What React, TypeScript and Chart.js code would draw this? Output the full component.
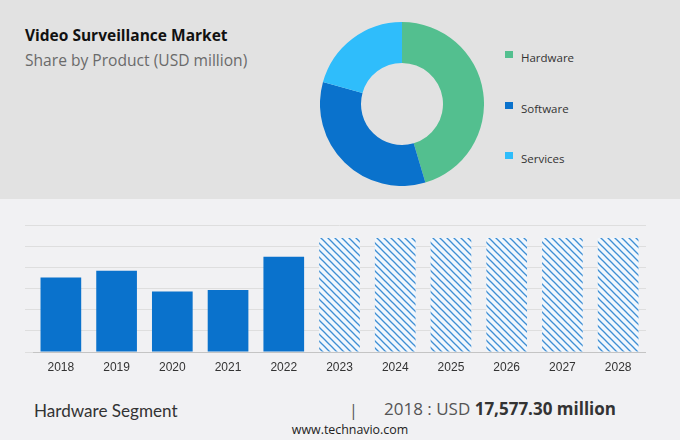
import React, { useEffect, useRef } from "react";
import { Chart, registerables } from "chart.js";

Chart.register(...registerables);

const years = ["2018", "2019", "2020", "2021", "2022", "2023", "2024", "2025", "2026", "2027", "2028"];
const actualValues = [17577.3, 19170, 14270, 14670, 22480];
const forecastValues = [26900, 26900, 26900, 26900, 26900, 26900];
const segments = ["Hardware", "Software", "Services"];
const shares = [45.4, 33.9, 20.7];
const segmentColors = ["#53bf8f", "#0a72cc", "#2fbdfb"];
const yMax = 30000;
const yStep = 5000;

const BAR_BLUE = "#0a72cc";

function makeHatch(): CanvasPattern | string {
  const s = 7;
  const c = document.createElement("canvas");
  c.width = s;
  c.height = s;
  const ctx = c.getContext("2d");
  if (!ctx) return "#cfe3f5";
  ctx.fillStyle = "#f1f7fd";
  ctx.fillRect(0, 0, s, s);
  ctx.strokeStyle = "#3f8fd4";
  ctx.lineWidth = 1.3;
  for (let k = -1; k <= 1; k++) {
    ctx.beginPath();
    ctx.moveTo(k * s - 1, -1);
    ctx.lineTo(k * s + s + 1, s + 1);
    ctx.stroke();
  }
  const p = ctx.createPattern(c, "repeat");
  return p || "#cfe3f5";
}

function Donut() {
  const ref = useRef<HTMLCanvasElement>(null);
  useEffect(() => {
    if (!ref.current) return;
    const chart = new Chart(ref.current, {
      type: "doughnut",
      data: {
        labels: segments,
        datasets: [
          {
            data: shares,
            backgroundColor: segmentColors,
            borderWidth: 0,
            hoverOffset: 0,
          },
        ],
      },
      options: {
        animation: false,
        responsive: false,
        maintainAspectRatio: false,
        cutout: "50%",
        layout: { padding: 0 },
        plugins: { legend: { display: false }, tooltip: { enabled: false } },
      },
    });
    return () => chart.destroy();
  }, []);
  return (
    <canvas
      ref={ref}
      width={164}
      height={164}
      style={{ position: "absolute", left: 320, top: 22, width: 164, height: 164 }}
    />
  );
}

function Bars() {
  const ref = useRef<HTMLCanvasElement>(null);
  useEffect(() => {
    if (!ref.current) return;
    const hatch = makeHatch();
    const values = [...actualValues, ...forecastValues];
    const colors = [
      ...actualValues.map(() => BAR_BLUE as any),
      ...forecastValues.map(() => hatch as any),
    ];
    const chart = new Chart(ref.current, {
      type: "bar",
      data: {
        labels: years,
        datasets: [
          {
            data: values,
            backgroundColor: colors,
            borderWidth: 0,
            categoryPercentage: 1,
            barPercentage: 0.73,
          },
        ],
      },
      options: {
        animation: false,
        responsive: false,
        maintainAspectRatio: false,
        layout: { padding: { top: 10, left: 0, right: 0, bottom: 0 } },
        plugins: { legend: { display: false }, tooltip: { enabled: false } },
        scales: {
          x: {
            grid: { display: false, drawTicks: false },
            border: { display: true, color: "#c4c4c4", width: 1 },
            ticks: {
              color: "#333333",
              font: { family: "'Liberation Sans', Arial, sans-serif", size: 12 },
              padding: 8,
              maxRotation: 0,
              autoSkip: false,
            },
            afterFit: (scale: any) => {
              scale.height = 30;
            },
          },
          y: {
            min: 0,
            max: yMax,
            ticks: { display: false, stepSize: yStep },
            grid: { color: "#dedede", lineWidth: 1, drawTicks: true, tickLength: 8 },
            border: { display: false },
          },
        },
      },
    });
    return () => chart.destroy();
  }, []);
  return (
    <canvas
      ref={ref}
      width={621}
      height={167}
      style={{ position: "absolute", left: 25, top: 215, width: 621, height: 167 }}
    />
  );
}

export default function App() {
  const abs = (o: React.CSSProperties): React.CSSProperties => ({ position: "absolute", whiteSpace: "nowrap", ...o });
  const legendTops = [51, 102, 152];
  return (
    <div
      style={{
        position: "fixed",
        left: 0,
        top: 0,
        width: 680,
        height: 440,
        background: "#f1f1f3",
        overflow: "hidden",
        fontFamily: "'Open Sans', sans-serif",
      }}
    >
      <div style={abs({ left: 0, top: 0, width: 680, height: 199, background: "#e2e2e2" })} />
      <div
        style={abs({
          left: 25,
          top: 24,
          fontFamily: "'Open Sans', sans-serif",
          fontWeight: 700,
          fontSize: 15.5,
          lineHeight: "22px",
          color: "#111111",
        })}
      >
        Video Surveillance Market
      </div>
      <div
        style={abs({
          left: 25,
          top: 49,
          fontFamily: "'Open Sans', sans-serif",
          fontSize: 15.6,
          lineHeight: "22px",
          color: "#6a6a6a",
        })}
      >
        Share by Product (USD million)
      </div>
      <Donut />
      {segments.map((s, i) => (
        <React.Fragment key={s}>
          <div style={abs({ left: 505, top: legendTops[i], width: 8, height: 7, background: segmentColors[i] })} />
          <div
            style={abs({
              left: 521,
              top: legendTops[i] - 2,
              fontFamily: "'Open Sans', sans-serif",
              fontSize: 11.5,
              lineHeight: "18px",
              color: "#333333",
            })}
          >
            {s}
          </div>
        </React.Fragment>
      ))}
      <Bars />
      <div
        style={abs({
          left: 34,
          top: 400,
          fontFamily: "Lato, sans-serif",
          fontSize: 17.1,
          lineHeight: "22px",
          color: "#333333",
        })}
      >
        Hardware Segment
      </div>
      <div
        style={abs({
          left: 349,
          top: 399,
          fontFamily: "'Open Sans', sans-serif",
          fontSize: 16,
          lineHeight: "22px",
          color: "#555555",
        })}
      >
        |
      </div>
      <div
        style={abs({
          left: 384,
          top: 398,
          fontFamily: "'Open Sans', sans-serif",
          fontSize: 17,
          lineHeight: "22px",
          color: "#555555",
        })}
      >
        2018 : USD <span style={{ fontWeight: 700, color: "#333333" }}>17,577.30 million</span>
      </div>
      <div
        style={abs({
          left: 0,
          width: 700,
          textAlign: "center",
          top: 421,
          fontFamily: "'Open Sans', sans-serif",
          fontSize: 12.4,
          lineHeight: "18px",
          color: "#222222",
        })}
      >
        www.technavio.com
      </div>
    </div>
  );
}
